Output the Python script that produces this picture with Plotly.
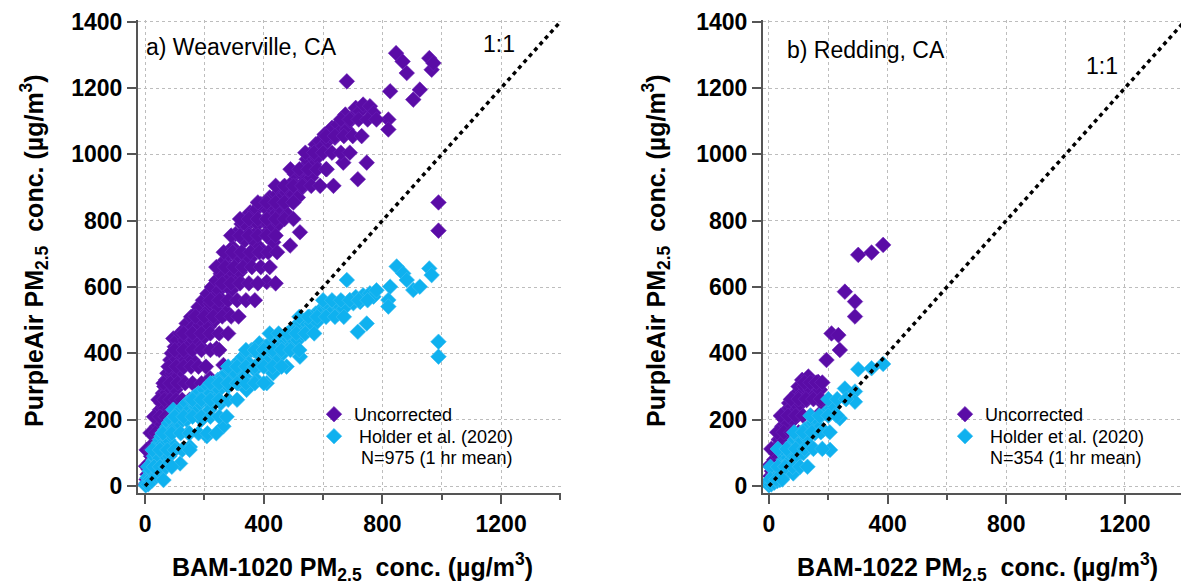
import plotly.graph_objects as go

# ---------------- data ----------------
# a) Weaverville, CA  -- Uncorrected  (x = BAM-1020, y = PurpleAir)
wv_unc = [(2,5),(5,20),(8,35),(10,15),(12,50),(15,70),(18,40),(20,90),(22,60),(25,110),(28,80),(30,130),(33,100),(35,150),(38,120),(40,180),(42,140),(45,200),(48,160),(50,230),(52,190),(55,250),(58,210),(60,280),(62,240),(65,300),(68,260),(70,320),(72,280),(75,340),(78,300),(80,360),(82,230),(85,380),(88,320),(90,400),(92,340),(95,445),(98,360),(100,420),(102,290),(105,380),(108,440),(110,330),(115,400),(118,460),(120,350),(125,420),(129,395),(130,470),(135,440),(138,380),(140,490),(145,420),(150,460),(151,425),(155,510),(160,380),(162,480),(165,440),(170,520),(175,470),(180,540),(185,485),(188,420),(190,500),(195,560),(200,450),(205,520),(208,525),(210,580),(215,480),(219,325),(220,550),(225,600),(230,565),(235,500),(241,415),(240,620),(245,540),(250,590),(255,640),(260,560),(264,365),(264,605),(268,680),(270,520),(275,525),(278,620),(280,700),(285,655),(290,590),(295,720),(298,705),(300,640),(305,760),(310,690),(315,620),(320,755),(320,645),(325,790),(330,700),(335,740),(340,810),(342,785),(345,680),(350,760),(354,825),(354,685),(360,800),(365,740),(370,830),(376,835),(376,765),(380,790),(385,720),(390,850),(398,705),(400,800),(405,760),(410,795),(410,615),(415,830),(420,870),(425,780),(432,845),(432,735),(440,820),(445,880),(450,790),(455,865),(460,830),(465,900),(470,850),(477,885),(480,820),(489,725),(490,910),(495,860),(500,880),(505,940),(510,905),(515,870),(522,945),(522,765),(530,900),(535,960),(540,920),(545,985),(550,950),(555,1000),(560,930),(567,1005),(570,970),(575,1030),(580,990),(590,1040),(595,1010),(600,1025),(605,1060),(612,955),(615,1040),(623,1055),(630,1080),(635,905),(640,1050),(650,1090),(660,1070),(668,1105),(668,975),(675,1120),(680,1075),(680,1220),(690,1100),(702,1115),(710,1140),(717,925),(725,1130),(735,1150),(747,975),(758,1145),(770,1125),(820,1105),(820,1075),(826,1190),(846,1305),(868,1280),(882,1245),(904,1165),(926,1195),(958,1290),(966,1255),(972,1275),(989,855),(989,770),
          (260,611),(290,611),(320,611),(350,611),(380,611),(440,611),(220,560),(250,560),(280,560),(310,560),(340,560),(370,560),(170,511),(200,511),(230,511),(260,511),(290,511),(315,511),(130,460),(160,460),(190,460),(220,460),(250,460),(280,460),(100,410),(130,410),(160,410),(190,410),(220,410),(250,410),(80,360),(105,360),(130,360),(155,360),(180,360),(205,360),(62,310),(85,310),(110,310),(135,310),(160,310),(190,310),(45,260),(65,260),(85,260),(105,260),(125,260),(150,260),(30,209),(50,209),(70,209),(90,209),(110,209),(18,160),(35,160),(55,160),(75,160),(5,109),(20,109),(35,109),(50,109),(3,60),(15,60),(28,60),
          (660,1105),(690,1105),(720,1105),(750,1105),(780,1105),(610,1055),(640,1055),(670,1055),(700,1055),(730,1055),(540,1005),(570,1005),(600,1005),(630,1005),(660,1005),(690,1005),(490,955),(520,955),(550,955),(580,955),(610,955),(440,905),(470,905),(500,905),(530,905),(560,905),(590,905),(380,855),(410,855),(440,855),(470,855),(500,855),(320,805),(350,805),(380,805),(410,805),(440,805),(470,805),(500,805),(290,755),(320,755),(350,755),(380,755),(410,755),(440,755),(265,705),(295,705),(325,705),(355,705),(385,705),(415,705),(445,705),(240,660),(270,660),(300,660),(330,660),(360,660),(390,660),(420,660)]
# a) Weaverville, CA  -- Holder et al. (2020)
wv_hol = [(2,2),(5,10),(8,25),(10,5),(12,30),(15,45),(18,20),(20,55),(22,15),(25,70),(28,40),(28,78),(30,90),(33,55),(35,105),(38,30),(40,115),(42,70),(45,130),(48,85),(50,140),(52,40),(55,150),(58,100),(60,160),(62,128),(62,18),(65,110),(68,170),(70,60),(72,130),(75,180),(78,140),(80,190),(82,90),(85,155),(88,200),(90,170),(95,170),(95,230),(98,120),(100,210),(105,180),(110,220),(115,190),(118,68),(120,230),(125,200),(130,240),(135,210),(140,200),(140,250),(145,160),(150,230),(151,118),(155,260),(160,220),(165,270),(170,240),(174,240),(180,280),(185,250),(190,200),(195,270),(200,290),(205,260),(208,270),(208,150),(212,300),(218,230),(222,280),(228,310),(235,260),(241,300),(245,320),(250,290),(255,250),(260,330),(264,330),(264,180),(270,310),(275,340),(280,300),(285,350),(290,320),(298,360),(305,340),(310,370),(315,310),(320,380),(325,350),(330,390),(335,330),(342,290),(342,400),(350,370),(358,410),(365,410),(370,350),(376,320),(380,400),(385,430),(390,370),(398,400),(405,420),(410,310),(415,380),(420,430),(425,350),(432,400),(432,340),(440,440),(445,390),(450,420),(455,420),(460,450),(465,400),(470,440),(477,450),(477,360),(485,460),(490,420),(495,470),(500,440),(505,480),(510,470),(515,440),(522,390),(525,490),(530,460),(540,500),(545,490),(550,470),(555,510),(560,490),(567,511),(575,520),(580,495),(590,530),(600,531),(610,515),(615,540),(623,541),(635,530),(640,550),(650,520),(657,541),(665,555),(670,535),(680,621),(690,560),(702,551),(710,570),(717,465),(725,555),(735,575),(747,490),(758,581),(770,571),(780,590),(820,561),(820,541),(826,601),(848,662),(870,641),(882,621),(904,591),(926,601),(958,656),(966,636),(989,435),(989,390),
          (600,560),(630,560),(660,560),(690,560),(720,560),(750,560),(520,510),(550,510),(580,510),(610,510),(640,510),(670,510),(420,460),(450,460),(480,460),(510,460),(540,460),(570,460),(340,410),(370,410),(400,410),(430,410),(460,410),(490,410),(520,410),(280,360),(310,360),(340,360),(370,360),(400,360),(430,360),(460,360),(220,310),(250,310),(280,310),(310,310),(340,310),(370,310),(400,310),(160,260),(190,260),(220,260),(250,260),(280,260),(310,260),(100,209),(130,209),(160,209),(190,209),(220,209),(250,209),(275,209),(60,159),(90,159),(120,159),(150,159),(180,159),(210,159),(240,159),(25,109),(50,109),(75,109),(100,109),(125,109),(150,109),(10,58),(30,58),(50,58),(70,58),(90,58)]
# b) Redding, CA  -- Uncorrected  (x = BAM-1022, y = PurpleAir)
rd_unc = [(0,5),(3,15),(5,30),(8,20),(10,45),(12,60),(15,35),(18,80),(20,55),(22,100),(25,70),(28,120),(30,90),(33,140),(35,110),(37,139),(40,160),(42,125),(45,180),(48,159),(50,140),(52,200),(55,165),(58,215),(60,179),(62,230),(65,190),(68,250),(70,210),(72,235),(75,260),(78,200),(80,240),(82,199),(85,270),(88,225),(90,250),(93,229),(95,280),(98,240),(100,300),(105,249),(108,275),(112,320),(115,260),(120,300),(127,259),(133,330),(140,290),(148,310),(155,275),(166,314),(172,290),(172,219),(180,250),(194,380),(211,460),(234,455),(239,410),(256,586),(290,556),(290,511),(301,697),(346,704),(385,727),
          (120,312),(140,312),(160,312),(180,312),(75,262),(100,262),(125,262),(150,262),(175,262),(40,212),(65,212),(90,212),(115,212),(140,212),(165,212),(28,162),(50,162),(75,162),(100,162),(125,162),(8,112),(30,112),(55,112),(80,112),(2,62),(20,62),(40,62)]
# b) Redding, CA  -- Holder et al. (2020)
rd_hol = [(0,2),(3,8),(5,15),(8,5),(10,20),(12,12),(15,30),(18,10),(20,35),(22,25),(25,45),(28,15),(30,50),(33,35),(37,18),(40,60),(42,45),(45,70),(48,30),(50,80),(52,55),(55,90),(58,65),(60,100),(62,40),(65,85),(68,110),(70,75),(72,120),(75,95),(78,60),(82,38),(80,130),(85,110),(88,140),(90,85),(95,150),(100,120),(104,58),(108,160),(112,135),(116,99),(120,170),(128,145),(135,180),(142,120),(150,190),(155,159),(162,200),(170,175),(183,169),(190,220),(206,109),(211,234),(225,215),(239,204),(256,294),(290,285),(290,254),(301,352),(346,355),(385,368),
          (200,262),(230,262),(260,262),(140,212),(170,212),(200,212),(230,212),(85,162),(115,162),(145,162),(175,162),(205,162),(30,112),(60,112),(90,112),(120,112),(150,112),(180,112),(5,58),(30,58),(55,58),(80,58),(105,58),(130,58),(5,20),(25,20),(45,20)]

one_to_one = [0, 1400]
tick_vals = [0, 200, 400, 600, 800, 1000, 1200, 1400]
x_tick_vals = [0, 400, 800, 1200]

PURPLE = "#5a0ca6"
CYAN = "#0fb1ef"
FONT = "Arial, Liberation Sans, sans-serif"

W, H = 1181, 586

def px(x):
    return x / W

def py(y):
    return 1 - y / H

fig = go.Figure()

def add_panel(unc, hol, xa, ya, leg_u, leg_h):
    fig.add_trace(go.Scatter(
        x=[p[0] for p in unc], y=[p[1] for p in unc], mode="markers",
        name="Uncorrected", xaxis=xa, yaxis=ya, legend=leg_u,
        marker=dict(symbol="diamond", size=12, color=PURPLE,
                    line=dict(width=0.6, color="#6b22b8"))))
    fig.add_trace(go.Scatter(
        x=[p[0] for p in hol], y=[p[1] for p in hol], mode="markers",
        name=" Holder et al. (2020)", xaxis=xa, yaxis=ya, legend=leg_h,
        marker=dict(symbol="diamond", size=12, color=CYAN,
                    line=dict(width=0.6, color="#3cbdf2"))))
    fig.add_trace(go.Scatter(
        x=one_to_one, y=one_to_one, mode="lines", showlegend=False,
        xaxis=xa, yaxis=ya,
        line=dict(color="black", width=3.5, dash="4px,4px")))

add_panel(wv_unc, wv_hol, "x", "y", "legend", "legend3")
add_panel(rd_unc, rd_hol, "x2", "y2", "legend2", "legend4")

axis_common = dict(
    showline=True, linecolor="#555555", linewidth=2,
    ticks="outside", tickcolor="#555555", tickwidth=2, ticklen=9,
    showgrid=True, gridcolor="#bdbdbd", gridwidth=1, griddash="dot",
    zeroline=False, automargin=False,
    tickfont=dict(family=FONT, size=23, color="black", weight="bold"),
)
minor = dict(dtick=200, tick0=0, ticks="outside", ticklen=5, tickwidth=2,
             tickcolor="#555555", showgrid=True, gridcolor="#bdbdbd",
             griddash="dot")

ydom = [py(493), py(20)]
yrange = [-21, 1405]

def leg(x, y):
    return dict(x=px(x), y=py(y), xanchor="left", yanchor="top",
                bgcolor="rgba(0,0,0,0)", borderwidth=0,
                font=dict(family=FONT, size=18, color="black"))

fig.update_layout(
    width=W, height=H,
    margin=dict(l=0, r=0, t=0, b=0),
    paper_bgcolor="white", plot_bgcolor="white",
    font=dict(family=FONT, color="black"),
    xaxis=dict(domain=[px(138), px(561)], range=[-24, 1402],
               tickvals=x_tick_vals, anchor="y", minor=minor, **axis_common),
    yaxis=dict(domain=ydom, range=yrange, tickvals=tick_vals, anchor="x",
               **axis_common),
    xaxis2=dict(domain=[px(763), 1.0], range=[-20, 1389],
                tickvals=x_tick_vals, anchor="y2", minor=minor, **axis_common),
    yaxis2=dict(domain=ydom, range=yrange, tickvals=tick_vals, anchor="x2",
                **axis_common),
    legend=leg(314, 396),
    legend3=leg(314, 418),
    legend2=leg(945, 396),
    legend4=leg(945, 418),
    showlegend=True,
)

ann = []
def text(x, y, s, size, bold=False, angle=0, xanchor="center"):
    ann.append(dict(x=px(x), y=py(y), xref="paper", yref="paper", text=s,
                    showarrow=False, textangle=angle, xanchor=xanchor,
                    yanchor="middle",
                    font=dict(family=FONT, size=size, color="black",
                              weight="bold" if bold else "normal")))

text(144, 47, "a) Weaverville, CA", 23, xanchor="left")
text(499, 44, "1:1", 23)
text(437, 458, "N=975 (1 hr mean)", 18)
text(785, 50, "b) Redding, CA", 23, xanchor="left")
text(1102, 66, "1:1", 23)
text(1066, 458, "N=354 (1 hr mean)", 18)

ytitle = "PurpleAir PM<sub>2.5</sub>  conc. (µg/m<sup>3</sup>)"
text(34, 251, ytitle, 25, bold=True, angle=-90)
text(656, 251, ytitle, 25, bold=True, angle=-90)
text(352, 567, "BAM-1020 PM<sub>2.5</sub>  conc. (µg/m<sup>3</sup>)", 25, bold=True)
text(977, 567, "BAM-1022 PM<sub>2.5</sub>  conc. (µg/m<sup>3</sup>)", 25, bold=True)

fig.update_layout(annotations=ann)
fig.write_html("out.html",
               config={"displayModeBar": False},
               post_script="document.body.style.margin='0px';")
